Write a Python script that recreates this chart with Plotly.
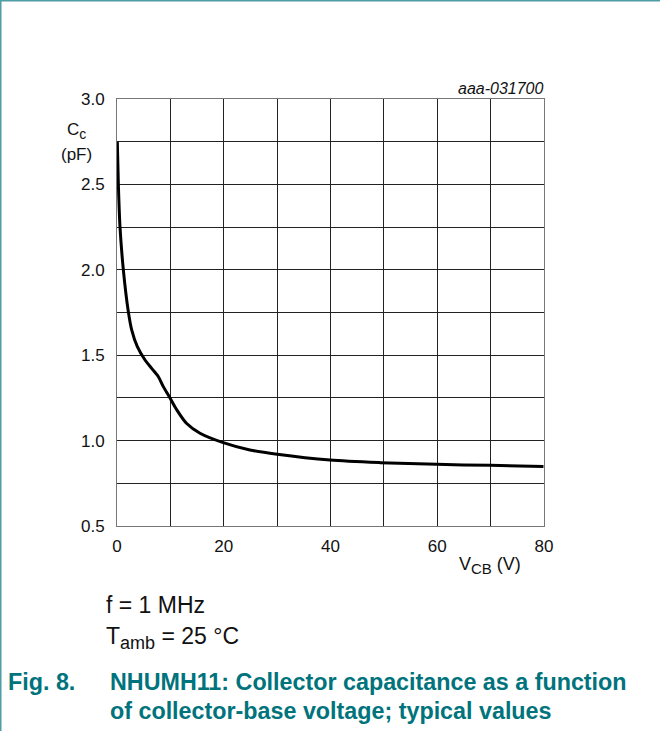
import plotly.graph_objects as go

# Data
v_cb = [0.06, 0.25, 0.56, 1.19, 2.12, 2.75, 3.81, 5.25, 6.5, 7.75, 8.68, 9.8, 11.2, 13.06, 15.55,
        19.9, 24.9, 30.0, 39.9, 49.3, 59.9, 69.9, 79.9]
c_c = [2.75, 2.506, 2.252, 2.0, 1.755, 1.648, 1.55, 1.472, 1.423, 1.374, 1.316, 1.257, 1.18, 1.10, 1.043,
       0.988, 0.945, 0.92, 0.886, 0.871, 0.861, 0.855, 0.849]

x_ticks = [0, 10, 20, 30, 40, 50, 60, 70, 80]
x_labels = ["0", "", "20", "", "40", "", "60", "", "80"]
y_ticks = [0.5, 0.75, 1.0, 1.25, 1.5, 1.75, 2.0, 2.25, 2.5, 2.75, 3.0]
y_labels = ["0.5", "", "1.0", "", "1.5", "", "2.0", "", "2.5", "", "3.0"]

W, H = 660, 731
L, R, T, B = 117, 544, 99, 526


def px(x):
    return (x - L) / (R - L)


def py(y):
    return (B - y) / (B - T)


FONT = "Liberation Sans, Arial, sans-serif"
TEAL = "#00737c"
INK = "#111"

fig = go.Figure()
fig.add_trace(go.Scatter(
    x=v_cb, y=c_c, mode="lines",
    line=dict(color="black", width=3, shape="spline", smoothing=0.8),
    showlegend=False, hoverinfo="skip",
))

fig.update_xaxes(
    range=[0, 80], tickvals=x_ticks, ticktext=x_labels,
    showgrid=True, gridcolor="#222", gridwidth=1,
    showline=True, linecolor="#777", linewidth=1, mirror=True,
    ticks="outside", ticklen=5, tickcolor="rgba(0,0,0,0)",
    zeroline=False, tickfont=dict(family=FONT, size=17, color=INK),
)
fig.update_yaxes(
    range=[0.5, 3.0], tickvals=y_ticks, ticktext=y_labels,
    showgrid=True, gridcolor="#222", gridwidth=1,
    showline=True, linecolor="#777", linewidth=1, mirror=True,
    ticks="outside", ticklen=8, tickcolor="rgba(0,0,0,0)",
    zeroline=False, tickfont=dict(family=FONT, size=17, color=INK),
)

annotations = [
    dict(x=px(546), y=py(89), text="<i>aaa-031700</i>", xanchor="right", yanchor="middle",
         font=dict(family=FONT, size=16, color=INK)),
    dict(x=px(76), y=py(131), text="C<sub><span style='font-size:14px'>c</span></sub>",
         xanchor="center", yanchor="middle",
         font=dict(family=FONT, size=17, color=INK)),
    dict(x=px(76), y=py(154), text="(pF)", xanchor="center", yanchor="middle",
         font=dict(family=FONT, size=17, color=INK)),
    dict(x=px(490), y=py(565), text="V<sub><span style='font-size:15px'>CB</span></sub> (V)",
         xanchor="center", yanchor="middle",
         font=dict(family=FONT, size=18, color=INK)),
    dict(x=px(104), y=py(605), text="f = 1 MHz", xanchor="left", yanchor="middle",
         font=dict(family=FONT, size=23, color=INK)),
    dict(x=px(104), y=py(638), text="T<sub><span style='font-size:18px'>amb</span></sub> = 25 °C",
         xanchor="left", yanchor="middle",
         font=dict(family=FONT, size=23, color=INK)),
    dict(x=px(6), y=py(682), text="<b>Fig. 8.</b>", xanchor="left", yanchor="middle",
         font=dict(family=FONT, size=23.3, color=TEAL)),
    dict(x=px(108), y=py(682), text="<b>NHUMH11: Collector capacitance as a function</b>",
         xanchor="left", yanchor="middle", font=dict(family=FONT, size=23.3, color=TEAL)),
    dict(x=px(108), y=py(711), text="<b>of collector-base voltage; typical values</b>",
         xanchor="left", yanchor="middle", font=dict(family=FONT, size=23.3, color=TEAL)),
]
for a in annotations:
    a.update(xref="paper", yref="paper", showarrow=False)

shapes = [
    dict(type="line", xref="paper", yref="paper", x0=px(0), x1=px(W), y0=py(0.75), y1=py(0.75),
         line=dict(color="#4f9ea6", width=1.5)),
    dict(type="line", xref="paper", yref="paper", x0=px(0.75), x1=px(0.75), y0=py(0), y1=py(H),
         line=dict(color="#4f9ea6", width=1.5)),
]

fig.update_layout(
    width=W, height=H, autosize=False,
    margin=dict(l=L, r=W - R, t=T, b=H - B, pad=0),
    paper_bgcolor="white", plot_bgcolor="white",
    annotations=annotations, shapes=shapes,
    font=dict(family=FONT),
)

fig.write_html("out.html", config={"displayModeBar": False},
               post_script="document.body.style.margin='0';")
